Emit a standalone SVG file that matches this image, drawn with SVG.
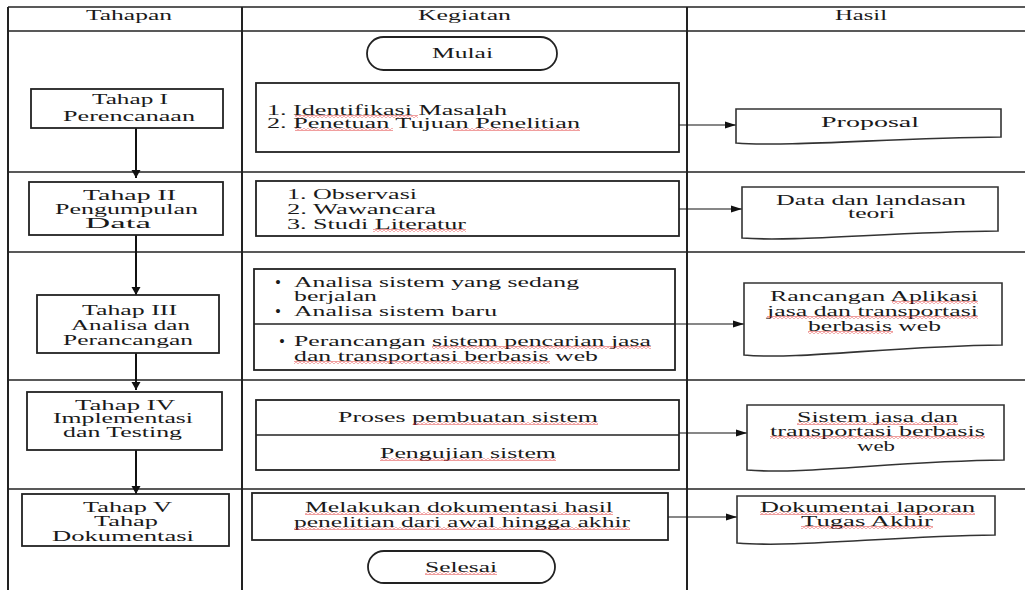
<svg xmlns="http://www.w3.org/2000/svg" width="1025" height="590" viewBox="0 0 1025 590">
<style>
text{font-family:"Liberation Serif","Times New Roman",serif;font-size:14px;fill:#1a1a1a}
.bl{font-size:17px}
.grid{stroke:#222;stroke-width:1.5;fill:none}
.col{stroke:#222;stroke-width:2;fill:none}
.box{fill:#fff;stroke:#222;stroke-width:1.8}
.doc{fill:#fff;stroke:#333;stroke-width:1.6}
.v{stroke:#111;stroke-width:2;fill:none;marker-end:url(#ah)}
.h{stroke:#111;stroke-width:1.2;fill:none;marker-end:url(#ah2)}
.sq{fill:url(#wave)}
</style>
<defs>
<marker id="ah" markerUnits="userSpaceOnUse" markerWidth="10" markerHeight="10" refX="8" refY="5" orient="auto"><path d="M0,0.5 L8,5 L0,9.5 z" fill="#111"/></marker>
<marker id="ah2" markerUnits="userSpaceOnUse" markerWidth="12" markerHeight="8" refX="11" refY="4" orient="auto"><path d="M0,0.5 L11,4 L0,7.5 z" fill="#111"/></marker>
<pattern id="wave" patternUnits="userSpaceOnUse" width="4" height="3"><path d="M0,2.4 L2,0.6 L4,2.4" fill="none" stroke="#d22" stroke-width="0.8"/></pattern>
</defs>

<g id="table">
<line class="grid" x1="8" y1="7" x2="1025" y2="7"/>
<line class="grid" x1="8" y1="31" x2="1025" y2="31"/>
<line class="grid" x1="8" y1="172" x2="1025" y2="172"/>
<line class="grid" x1="8" y1="252" x2="1025" y2="252"/>
<line class="grid" x1="8" y1="380" x2="1025" y2="380"/>
<line class="grid" x1="8" y1="489" x2="1025" y2="489"/>
<line class="col" x1="8" y1="7" x2="8" y2="590"/>
<line class="col" x1="242" y1="7" x2="242" y2="590"/>
<line class="col" x1="687" y1="7" x2="687" y2="590"/>
<text x="86" y="20" textLength="86" lengthAdjust="spacingAndGlyphs">Tahapan</text>
<text x="418" y="20" textLength="93" lengthAdjust="spacingAndGlyphs">Kegiatan</text>
<text x="835" y="20" textLength="52" lengthAdjust="spacingAndGlyphs">Hasil</text>
</g>

<g id="connectors">
<line class="v" x1="136" y1="128" x2="136" y2="178"/>
<line class="v" x1="136" y1="235" x2="136" y2="295"/>
<line class="v" x1="136" y1="353" x2="136" y2="390"/>
<line class="v" x1="136" y1="450" x2="136" y2="494"/>
<line class="h" x1="679" y1="125" x2="736" y2="125"/>
<line class="h" x1="679" y1="209" x2="742" y2="209"/>
<line class="h" x1="675" y1="324" x2="744" y2="324"/>
<line class="h" x1="679" y1="433" x2="747" y2="433"/>
<line class="h" x1="668" y1="517" x2="737" y2="517"/>
</g>

<g id="tahap1">
<rect class="box" x="31" y="89" width="192" height="39"/>
<text x="92" y="104" textLength="76" lengthAdjust="spacingAndGlyphs">Tahap I</text>
<text x="63" y="121" textLength="132" lengthAdjust="spacingAndGlyphs">Perencanaan</text>
</g>
<g id="tahap2">
<rect class="box" x="29" y="182" width="194" height="53"/>
<text x="83" y="200" textLength="93" lengthAdjust="spacingAndGlyphs">Tahap II</text>
<text x="55" y="214" textLength="143" lengthAdjust="spacingAndGlyphs">Pengumpulan</text>
<text x="85" y="228" textLength="66" lengthAdjust="spacingAndGlyphs">Data</text>
</g>
<g id="tahap3">
<rect class="box" x="37" y="295" width="182" height="58"/>
<text x="82" y="315" textLength="95" lengthAdjust="spacingAndGlyphs">Tahap III</text>
<text x="71" y="330" textLength="119" lengthAdjust="spacingAndGlyphs">Analisa dan</text>
<text x="63" y="345" textLength="130" lengthAdjust="spacingAndGlyphs">Perancangan</text>
</g>
<g id="tahap4">
<rect class="box" x="27" y="392" width="195" height="58"/>
<text x="75" y="410" textLength="100" lengthAdjust="spacingAndGlyphs">Tahap IV</text>
<text x="53" y="423" textLength="140" lengthAdjust="spacingAndGlyphs">Implementasi</text>
<text x="63" y="437" textLength="119" lengthAdjust="spacingAndGlyphs">dan Testing</text>
</g>
<g id="tahap5">
<rect class="box" x="22" y="494" width="207" height="52"/>
<text x="83" y="512" textLength="89" lengthAdjust="spacingAndGlyphs">Tahap V</text>
<text x="94" y="526" textLength="64" lengthAdjust="spacingAndGlyphs">Tahap</text>
<text x="52" y="541" textLength="142" lengthAdjust="spacingAndGlyphs">Dokumentasi</text>
</g>

<g id="mulai">
<rect class="box" x="367" y="37" width="190" height="33" rx="16.5"/>
<text x="432" y="58" textLength="61" lengthAdjust="spacingAndGlyphs">Mulai</text>
</g>
<g id="kegiatan1">
<rect class="box" x="256" y="83" width="423" height="69"/>
<text x="267" y="115" textLength="240" lengthAdjust="spacingAndGlyphs">1.  Identifikasi Masalah</text>
<text x="267" y="128" textLength="313" lengthAdjust="spacingAndGlyphs">2.  Penetuan Tujuan Penelitian</text>
<rect class="sq" x="295" y="115" width="123" height="3"/>
<rect class="sq" x="295" y="128" width="98" height="3"/>
<rect class="sq" x="453" y="128" width="127" height="3"/>
</g>
<g id="kegiatan2">
<rect class="box" x="256" y="181" width="423" height="55"/>
<text x="287" y="199" textLength="130" lengthAdjust="spacingAndGlyphs">1. Observasi</text>
<text x="287" y="214" textLength="149" lengthAdjust="spacingAndGlyphs">2. Wawancara</text>
<text x="287" y="229" textLength="179" lengthAdjust="spacingAndGlyphs">3. Studi Literatur</text>
<rect class="sq" x="373" y="229" width="93" height="3"/>
</g>
<g id="kegiatan3">
<rect class="box" x="254" y="269" width="421" height="101"/>
<line class="grid" x1="254" y1="324" x2="675" y2="324"/>
<text class="bl" x="275" y="288">•</text>
<text x="294" y="287" textLength="285" lengthAdjust="spacingAndGlyphs">Analisa sistem yang sedang</text>
<text x="294" y="301" textLength="83" lengthAdjust="spacingAndGlyphs">berjalan</text>
<text class="bl" x="275" y="317">•</text>
<text x="294" y="316" textLength="203" lengthAdjust="spacingAndGlyphs">Analisa sistem baru</text>
<text class="bl" x="279" y="347">•</text>
<text x="294" y="346" textLength="357" lengthAdjust="spacingAndGlyphs">Perancangan sistem pencarian jasa</text>
<text x="294" y="361" textLength="304" lengthAdjust="spacingAndGlyphs">dan transportasi berbasis web</text>
<rect class="sq" x="432" y="346" width="219" height="3"/>
<rect class="sq" x="294" y="361" width="256" height="3"/>
</g>
<g id="kegiatan4">
<rect class="box" x="256" y="400" width="423" height="70"/>
<line class="grid" x1="256" y1="435" x2="679" y2="435"/>
<text x="338" y="422" textLength="260" lengthAdjust="spacingAndGlyphs">Proses pembuatan sistem</text>
<text x="380" y="458" textLength="176" lengthAdjust="spacingAndGlyphs">Pengujian sistem</text>
<rect class="sq" x="413" y="422" width="185" height="3"/>
<rect class="sq" x="380" y="458" width="176" height="3"/>
</g>
<g id="kegiatan5">
<rect class="box" x="252" y="493" width="416" height="47"/>
<text x="305" y="512" textLength="308" lengthAdjust="spacingAndGlyphs">Melakukan dokumentasi hasil</text>
<text x="294" y="527" textLength="336" lengthAdjust="spacingAndGlyphs">penelitian dari awal hingga akhir</text>
<rect class="sq" x="305" y="512" width="308" height="3"/>
<rect class="sq" x="294" y="527" width="336" height="3"/>
</g>
<g id="selesai">
<rect class="box" x="368" y="551" width="187" height="32" rx="16"/>
<text x="425" y="572" textLength="72" lengthAdjust="spacingAndGlyphs">Selesai</text>
<rect class="sq" x="425" y="572" width="72" height="3"/>
</g>

<g id="hasil1">
<path class="doc" d="M736,109 H1001 V137 C890,138 790,147 736,143 Z"/>
<text x="821" y="127" textLength="98" lengthAdjust="spacingAndGlyphs">Proposal</text>
</g>
<g id="hasil2">
<path class="doc" d="M742,187 H998 V231 C890,232 795,242 742,238 Z"/>
<text x="776" y="205" textLength="190" lengthAdjust="spacingAndGlyphs">Data dan landasan</text>
<text x="848" y="218" textLength="47" lengthAdjust="spacingAndGlyphs">teori</text>
</g>
<g id="hasil3">
<path class="doc" d="M744,283 H1002 V345 C890,346 800,360 744,355 Z"/>
<text x="770" y="301" textLength="208" lengthAdjust="spacingAndGlyphs">Rancangan Aplikasi</text>
<text x="767" y="316" textLength="211" lengthAdjust="spacingAndGlyphs">jasa dan transportasi</text>
<text x="808" y="331" textLength="133" lengthAdjust="spacingAndGlyphs">berbasis web</text>
<rect class="sq" x="892" y="301" width="86" height="3"/>
<rect class="sq" x="767" y="316" width="211" height="3"/>
<rect class="sq" x="808" y="331" width="85" height="3"/>
</g>
<g id="hasil4">
<path class="doc" d="M747,405 H1004 V460 C895,461 805,475 747,470 Z"/>
<text x="797" y="422" textLength="161" lengthAdjust="spacingAndGlyphs">Sistem jasa dan</text>
<text x="770" y="436" textLength="215" lengthAdjust="spacingAndGlyphs">transportasi berbasis</text>
<text x="857" y="451" textLength="38" lengthAdjust="spacingAndGlyphs">web</text>
<rect class="sq" x="797" y="422" width="161" height="3"/>
<rect class="sq" x="770" y="436" width="215" height="3"/>
</g>
<g id="hasil5">
<path class="doc" d="M737,496 H995 V535 C890,536 795,548 737,543 Z"/>
<text x="760" y="512" textLength="215" lengthAdjust="spacingAndGlyphs">Dokumentai laporan</text>
<text x="801" y="526" textLength="132" lengthAdjust="spacingAndGlyphs">Tugas Akhir</text>
<rect class="sq" x="760" y="512" width="215" height="3"/>
<rect class="sq" x="801" y="526" width="132" height="3"/>
</g>
</svg>
